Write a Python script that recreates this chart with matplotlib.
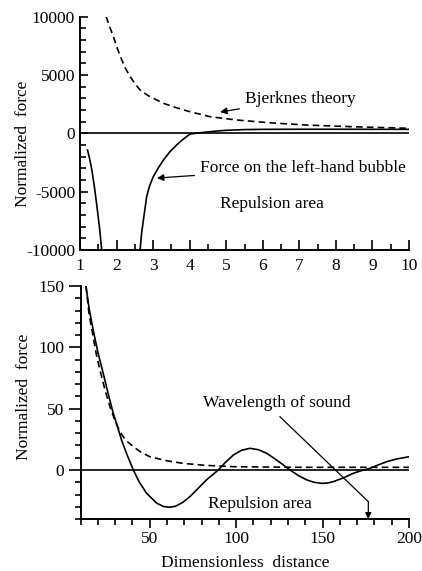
import matplotlib
matplotlib.use('agg')
import matplotlib.pyplot as plt
from matplotlib.ticker import MultipleLocator

plt.rcParams.update({'font.family': 'Liberation Serif', 'font.size': 12.5,
                     'axes.unicode_minus': False})

# top panel: normalized force vs distance (1..10)
top_bjerknes_x = [1.71, 1.81, 1.91, 2.02, 2.14, 2.25, 2.37, 2.5, 2.64, 2.85, 3.10, 3.3, 3.55,
                  3.8, 4.01, 4.56, 5.29, 6.2, 7.2, 8.5, 10.0]
top_bjerknes_y = [10000, 9100, 8280, 7250, 6280, 5500, 4850, 4250, 3710, 3250, 2850, 2550, 2280,
                  2030, 1850, 1420, 1140, 900, 710, 560, 430]
top_left_x = [1.20, 1.26, 1.32, 1.39, 1.46, 1.53, 1.59]
top_left_y = [-1430, -2200, -3140, -4600, -6290, -8100, -10000]
top_right_x = [2.64, 2.68, 2.73, 2.82, 2.9, 3.00, 3.14, 3.28, 3.45, 3.64, 3.82, 4.01, 4.25,
               4.56, 4.75, 5.0, 5.5, 6.0, 7.0, 8.0, 10.0]
top_right_y = [-10000, -8600, -7430, -5430, -4500, -3720, -2950, -2290, -1600, -1000, -500, -60, 40,
               140, 200, 260, 320, 340, 350, 350, 340]

# bottom panel: normalized force vs distance (10..200)
bot_force_x = [13.1, 15, 17.3, 20, 23.1, 26, 28.9, 31, 33.7, 37, 40.5, 44, 48.2, 54.0, 58, 61.7,
               65, 69, 73.3, 78, 82.9, 89.7, 94, 98.4, 103, 108.0, 113, 117.7, 122, 126.5,
               131.2, 136, 140.9, 145, 149.5, 153, 156.3, 162.0, 167.8, 172.5, 177.5, 182,
               187.2, 193, 200.0]
bot_force_y = [150, 131, 114, 96, 78.8, 62, 46.2, 37, 24.4, 12, 0, -10, -19, -27, -29.8, -30.4,
               -29.5, -26.5, -21.7, -15, -8, 0, 6.5, 12.2, 16, 17.7, 16.5, 13.6, 9.5, 5,
               0, -4.5, -8.1, -10, -10.9, -10.6, -9.5, -6.5, -2.7, -0.5, 1.4, 4,
               6.8, 9, 10.8]
bot_bjerknes_x = [13.1, 15, 17.3, 19, 21.2, 24, 27.0, 30, 32.7, 36, 40.5, 45, 50.1, 60.0, 69.4,
                  82.0, 98.4, 120.0, 137.0, 200.0]
bot_bjerknes_y = [150, 126, 108.6, 95, 81.5, 66, 51.6, 40, 31.2, 24.5, 19, 14.5, 10.8, 7.5, 5.4,
                  3.8, 2.7, 2.4, 2.2, 2.2]
wavelength = 176.5

lw = 1.2
dash = (0, (4, 2.5))

fig = plt.figure(figsize=(4.22, 5.71), dpi=100)
ax1 = fig.add_axes([0.19, 0.562, 0.779, 0.409])
ax2 = fig.add_axes([0.191, 0.091, 0.778, 0.408])

for ax in (ax1, ax2):
    for s in ('top', 'right'):
        ax.spines[s].set_visible(False)
    for s in ('left', 'bottom'):
        ax.spines[s].set_linewidth(1.4)

# ---- top
ax1.axhline(0, color='black', lw=lw)
ax1.plot(top_bjerknes_x, top_bjerknes_y, color='black', lw=lw, ls=dash)
ax1.plot(top_left_x, top_left_y, color='black', lw=lw)
ax1.plot(top_right_x, top_right_y, color='black', lw=lw)
ax1.set_xlim(1, 10)
ax1.set_ylim(-10000, 10000)
ax1.xaxis.set_major_locator(MultipleLocator(1))
ax1.xaxis.set_minor_locator(MultipleLocator(0.5))
ax1.yaxis.set_major_locator(MultipleLocator(5000))
ax1.yaxis.set_minor_locator(MultipleLocator(1000))
ax1.tick_params(axis='both', which='both', direction='in', width=1.2)
ax1.tick_params(axis='x', which='major', length=7, pad=6)
ax1.tick_params(axis='x', which='minor', length=4.5)
ax1.tick_params(axis='y', which='major', length=6, pad=3.6)
ax1.tick_params(axis='y', which='minor', length=4)
ax1.set_ylabel('Normalized  force', va='center')
ax1.yaxis.set_label_coords(-0.173, 0.454)

ax1.annotate('Bjerknes theory', xy=(4.83, 1826), xytext=(5.51, 2940),
             va='center', ha='left',
             arrowprops=dict(arrowstyle='-|>', color='black', lw=0.9,
                             mutation_scale=10, shrinkA=2, shrinkB=0))
ax1.annotate('Force on the left-hand bubble', xy=(3.1, -3830), xytext=(4.28, -2970),
             va='center', ha='left',
             arrowprops=dict(arrowstyle='-|>', color='black', lw=0.9,
                             mutation_scale=10, shrinkA=2, shrinkB=0))
ax1.text(4.83, -6060, 'Repulsion area', va='center', ha='left')

# ---- bottom
ax2.axhline(0, color='black', lw=lw)
ax2.plot(bot_bjerknes_x, bot_bjerknes_y, color='black', lw=lw, ls=dash)
ax2.plot(bot_force_x, bot_force_y, color='black', lw=lw)
ax2.set_xlim(10, 200)
ax2.set_ylim(-40, 150)
ax2.xaxis.set_major_locator(MultipleLocator(50))
ax2.xaxis.set_minor_locator(MultipleLocator(10))
ax2.yaxis.set_major_locator(MultipleLocator(50))
ax2.yaxis.set_minor_locator(MultipleLocator(10))
ax2.tick_params(axis='both', which='both', direction='out', width=1.2)
ax2.tick_params(axis='x', which='major', length=6.5, pad=2)
ax2.tick_params(axis='x', which='minor', length=4)
ax2.tick_params(axis='y', which='major', length=9, pad=2.7)
ax2.tick_params(axis='y', which='minor', length=4.5)
ax2.set_yticks([0, 50, 100, 150])
ax2.set_ylabel('Normalized  force', va='center')
ax2.yaxis.set_label_coords(-0.173, 0.524)
ax2.set_xlabel('Dimensionless  distance', va='center')
ax2.xaxis.set_label_coords(0.5, -0.19)

ax2.text(80.8, 54.6, 'Wavelength of sound', va='center', ha='left')
ax2.plot([125.4, wavelength, wavelength], [43.4, -25.8, -25.8], color='black', lw=0.9)
ax2.annotate('', xy=(wavelength, -40), xytext=(wavelength, -25.8),
             arrowprops=dict(arrowstyle='-|>', color='black', lw=0.9,
                             mutation_scale=9, shrinkA=0, shrinkB=0))
ax2.text(83.7, -27.7, 'Repulsion area', va='center', ha='left')

fig.savefig('out.png', dpi=100)
